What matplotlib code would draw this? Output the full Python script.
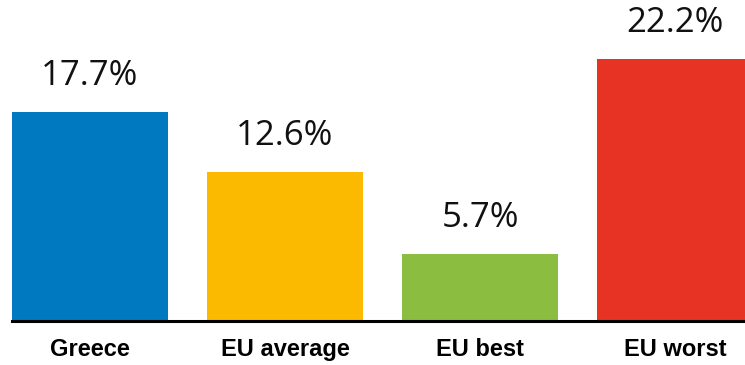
import matplotlib.pyplot as plt

categories = ["Greece", "EU average", "EU best", "EU worst"]
values = [17.7, 12.6, 5.7, 22.2]
colors = ["#0079c1", "#fbb900", "#8bbe40", "#e63323"]

fig = plt.figure(figsize=(7.45, 3.65), dpi=100)
ax = fig.add_axes([12 / 745, 44 / 365, 733 / 745, 307 / 365])

x = list(range(len(categories)))
bars = ax.bar(x, values, width=0.8, color=colors)

# value labels above bars
for b, v in zip(bars, values):
    ax.text(b.get_x() + b.get_width() / 2, v + 1.6, f"{v}%",
            ha="center", va="bottom", fontsize=25,
            family=["Open Sans", "DejaVu Sans"], color="#111111")

ax.set_xlim(-0.4, -0.4 + 733 / 195)
ax.set_ylim(0, 26)

for s in ["top", "right", "left"]:
    ax.spines[s].set_visible(False)
ax.spines["bottom"].set_linewidth(2.2)
ax.spines["bottom"].set_color("black")
ax.set_yticks([])
ax.set_xticks(x)
ax.set_xticklabels(categories, fontsize=17, fontweight="bold",
                   family=["Liberation Sans", "DejaVu Sans"])
ax.tick_params(axis="x", length=0, pad=12)

fig.savefig("out.png", dpi=100)
